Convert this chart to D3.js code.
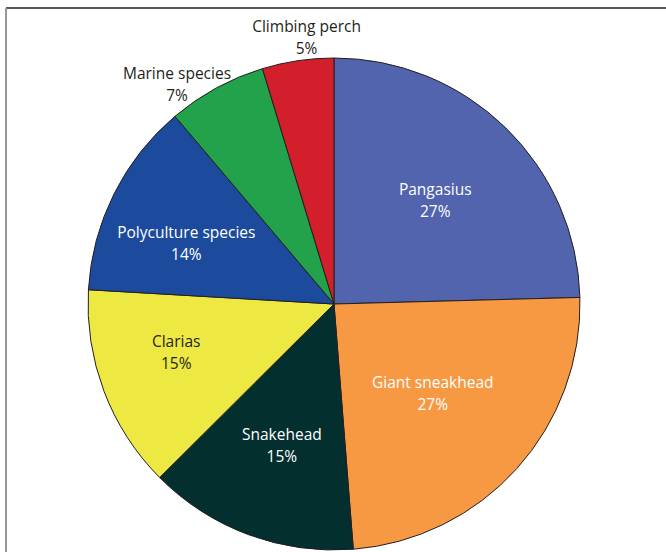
<!DOCTYPE html>
<html>
<head>
<meta charset="utf-8">
<script src="https://cdn.jsdelivr.net/npm/d3@7"></script>
<style>
  body { margin: 0; background: #fff; }
  svg { display: block; }
</style>
</head>
<body>
<div id="chart"></div>
<script>
// Slice shares (angles), and the printed labels
const species = ["Pangasius", "Giant sneakhead", "Snakehead", "Clarias", "Polyculture species", "Marine species", "Climbing perch"];
const shares = [24.6, 24.2, 13.8, 13.4, 12.9, 6.5, 4.7];
const percentLabels = ["27%", "27%", "15%", "15%", "14%", "7%", "5%"];
const colors = ["#5164ad", "#f79943", "#032f2f", "#ede842", "#1c4a9c", "#22a24b", "#d21f2b"];

const width = 666, height = 552;
const cx = 334, cy = 304, radius = 246;

const svg = d3.select("#chart").append("svg")
    .attr("width", width)
    .attr("height", height);

// frame lines
svg.append("line").attr("x1", 6).attr("x2", width).attr("y1", 8).attr("y2", 8)
    .attr("stroke", "#231f20").attr("stroke-width", 1.5);
svg.append("line").attr("x1", 6).attr("x2", 6).attr("y1", 8).attr("y2", height)
    .attr("stroke", "#999").attr("stroke-width", 2);

const data = species.map((s, i) => ({ name: s, value: shares[i], pct: percentLabels[i], color: colors[i] }));

const pie = d3.pie().value(d => d.value).sort(null);
const arc = d3.arc().innerRadius(0).outerRadius(radius);
const arcs = pie(data);

const g = svg.append("g").attr("transform", `translate(${cx},${cy})`);

g.selectAll("path")
    .data(arcs)
    .enter()
    .append("path")
    .attr("d", arc)
    .attr("fill", d => d.data.color)
    .attr("stroke", "#231f20")
    .attr("stroke-width", 1)
    .attr("stroke-linejoin", "round");

// label placement: inside slices at ~0.6r, small slices outside
const insideR = [0.59, 0.54, 0.61, 0.67, 0.65, 1.1, 1.09];
const angleShift = [0, 0, 0, 0.07, -0.07, -0.12, 0.045]; // radians, nudges for readability
const textColor = ["#fff", "#fff", "#fff", "#231f20", "#fff", "#231f20", "#231f20"];

const labels = g.selectAll(".lbl")
    .data(arcs)
    .enter()
    .append("text")
    .attr("class", "lbl")
    .attr("text-anchor", "middle")
    .attr("font-family", "Open Sans, sans-serif")
    .attr("font-size", 15.5)
    .attr("fill", (d, i) => textColor[i])
    .attr("transform", (d, i) => {
        const a = (d.startAngle + d.endAngle) / 2 + angleShift[i];
        const r = radius * insideR[i];
        return `translate(${r * Math.sin(a)},${-r * Math.cos(a)})`;
    });

labels.append("tspan").attr("x", 0).attr("y", -5).text(d => d.data.name);
labels.append("tspan").attr("x", 0).attr("y", 17).text(d => d.data.pct);
</script>
</body>
</html>
